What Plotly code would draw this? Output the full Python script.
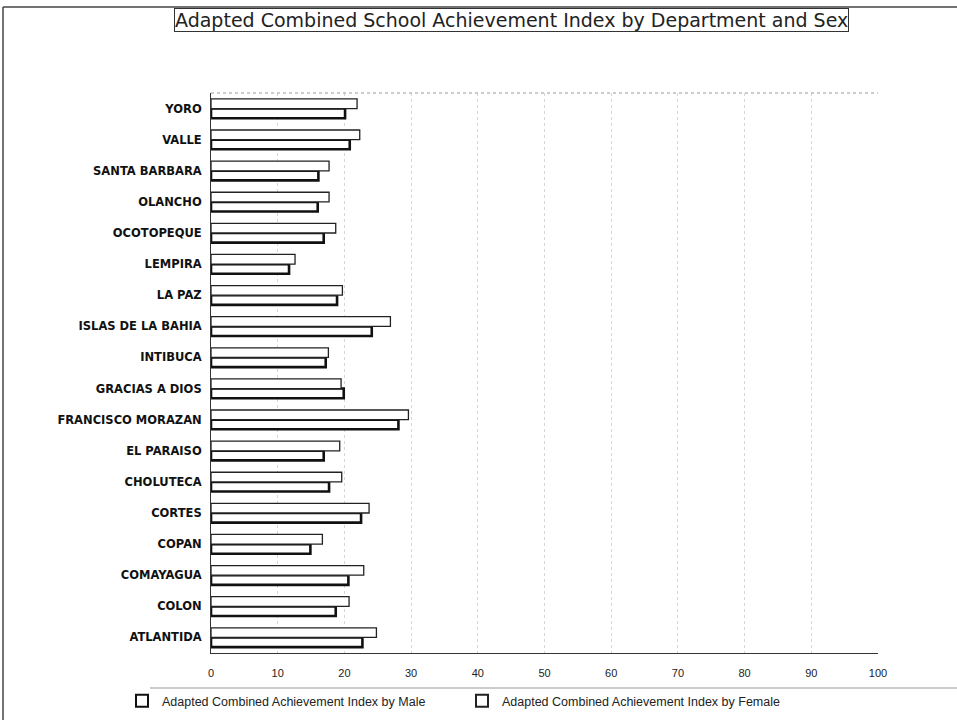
import plotly.graph_objects as go

departments = [
    "ATLANTIDA", "COLON", "COMAYAGUA", "COPAN", "CORTES", "CHOLUTECA",
    "EL PARAISO", "FRANCISCO MORAZAN", "GRACIAS A DIOS", "INTIBUCA",
    "ISLAS DE LA BAHIA", "LA PAZ", "LEMPIRA", "OCOTOPEQUE", "OLANCHO",
    "SANTA BARBARA", "VALLE", "YORO",
]
male_index = [22.7, 18.7, 20.6, 14.9, 22.5, 17.7, 16.9, 28.1, 19.9, 17.2,
              24.1, 18.9, 11.7, 16.9, 16.0, 16.1, 20.8, 20.1]
female_index = [24.8, 20.7, 22.9, 16.7, 23.7, 19.6, 19.3, 29.6, 19.5, 17.6,
                26.9, 19.7, 12.6, 18.7, 17.7, 17.7, 22.3, 21.9]
x_ticks = [0, 10, 20, 30, 40, 50, 60, 70, 80, 90, 100]

W, H = 957, 720
L, R, T, B = 211, 79, 93, 67
pw, ph = W - L - R, H - T - B


def px(x):
    return (x - L) / pw


def py(y):
    return (H - B - y) / ph


font = "Liberation Sans, Arial, sans-serif"

fig = go.Figure()
fig.add_trace(go.Bar(
    y=departments, x=male_index, orientation="h",
    name="Adapted Combined Achievement Index by Male",
    marker=dict(color="#ffffff", line=dict(color="#111111", width=2.6)),
))
fig.add_trace(go.Bar(
    y=departments, x=female_index, orientation="h",
    name="Adapted Combined Achievement Index by Female",
    marker=dict(color="#ffffff", line=dict(color="#222222", width=1.3)),
))

fig.update_layout(
    width=W, height=H,
    margin=dict(l=L, r=R, t=T, b=B, autoexpand=False),
    paper_bgcolor="white", plot_bgcolor="white",
    barmode="group", bargap=0.38, bargroupgap=0.0,
    font=dict(family=font, color="#111111"),
    xaxis=dict(
        range=[0, 100], tickvals=x_ticks, ticks="",
        tickfont=dict(size=11, color="#222222"),
        showgrid=True, gridcolor="#d6d6d6", griddash="dot", gridwidth=1,
        zeroline=False, showline=True, linecolor="#333333", linewidth=1,
        ticklabelstandoff=10,
    ),
    yaxis=dict(
        ticks="", showgrid=False,
        tickfont=dict(size=11.5, color="#111111", weight="bold",
                      family="DejaVu Sans, sans-serif"),
        showline=True, linecolor="#333333", linewidth=1,
        ticklabelstandoff=6,
    ),
    legend=dict(
        orientation="h", x=px(122), xanchor="left",
        y=py(701), yanchor="middle",
        entrywidth=295, entrywidthmode="pixels",
        font=dict(size=12.5, color="#222222"),
        bgcolor="rgba(0,0,0,0)",
        itemsizing="constant", traceorder="normal",
    ),
    showlegend=True,
)

# Title in a framed box
fig.add_annotation(
    text="Adapted Combined School Achievement Index by Department and Sex",
    xref="paper", yref="paper", x=px(511), y=py(20),
    xanchor="center", yanchor="middle", showarrow=False,
    font=dict(size=19, color="#222222", family="DejaVu Sans, sans-serif"),
    bordercolor="#333333", borderwidth=1, borderpad=0, bgcolor="white",
)

# Chart frame edges and the rule above the legend
fig.add_shape(type="line", xref="paper", yref="paper",
              x0=px(3), x1=px(W), y0=py(7), y1=py(7),
              line=dict(color="#444444", width=1.5))
fig.add_shape(type="line", xref="paper", yref="paper",
              x0=px(3), x1=px(3), y0=py(7), y1=py(H),
              line=dict(color="#444444", width=1.5))
fig.add_shape(type="line", xref="paper", yref="paper",
              x0=px(150), x1=px(W), y0=py(688), y1=py(688),
              line=dict(color="#999999", width=1))
# Top edge of plot area
fig.add_shape(type="line", xref="paper", yref="paper",
              x0=0, x1=1, y0=1, y1=1,
              line=dict(color="#999999", width=1, dash="dot"))

fig.write_html("out.html")
